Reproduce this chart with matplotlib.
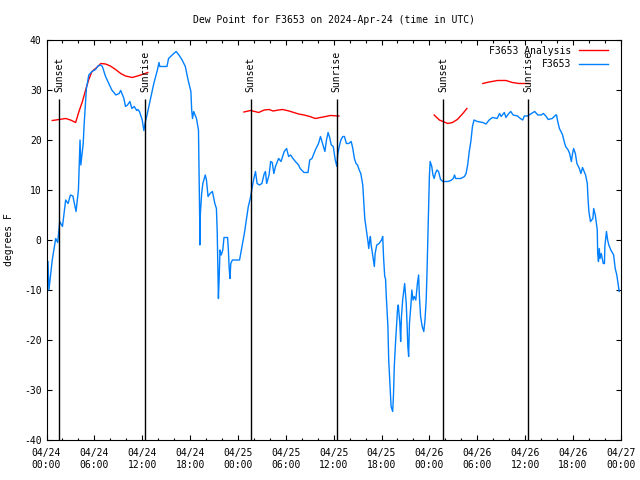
import matplotlib
matplotlib.use("Agg")
import matplotlib.pyplot as plt
import matplotlib.dates as mdates
import numpy as np

plt.rcParams["font.family"] = ["DejaVu Sans Mono"]
plt.rcParams["font.size"] = 7
plt.rcParams["axes.unicode_minus"] = False

START = np.datetime64("2024-04-24T00:00")
END = np.datetime64("2024-04-27T00:00")

# hours since 2024-04-24 00:00 UTC
obs_hours = [
    0.19, 0.3, 0.73, 1.15, 1.4, 1.65, 2.0, 2.4, 2.7, 3.0, 3.3, 3.7, 4.0, 4.2, 4.3,
    4.6, 4.7, 5.0, 5.3, 5.7, 6.15, 6.45, 6.8, 7.0, 7.4, 7.8, 8.2, 8.7, 9.1, 9.3,
    9.7, 9.9, 10.15, 10.45, 10.7, 11.0, 11.3, 11.45, 11.65, 12.0, 12.2, 12.4, 12.6,
    13.0, 13.45, 13.9, 14.1, 14.2, 14.7, 15.1, 15.3, 15.75, 16.25, 16.6, 17.0,
    17.4, 17.75, 18.1, 18.2, 18.3, 18.45, 18.8, 19.05, 19.1, 19.2, 19.22, 19.25,
    19.45, 19.6, 19.9, 20.05, 20.25, 20.5, 20.8, 21.1, 21.3, 21.4, 21.5, 21.55,
    21.65, 21.75, 21.9, 22.1, 22.25, 22.7, 22.8, 22.9, 23.0, 23.1, 23.3, 24.2,
    24.5, 24.8, 25.05, 25.3, 25.6, 25.8, 26.0, 26.2, 26.4, 26.7, 27.0, 27.3,
    27.45, 27.6, 27.9, 28.1, 28.3, 28.5, 28.7, 29.1, 29.4, 29.8, 30.1, 30.35,
    30.6, 30.9, 31.2, 31.6, 31.8, 32.3, 32.8, 33.0, 33.3, 33.7, 34.1, 34.35,
    34.6, 34.9, 35.1, 35.3, 35.5, 35.7, 35.95, 36.2, 36.4, 36.5, 36.7, 36.9,
    37.15, 37.35, 37.6, 37.9, 38.2, 38.4, 38.6, 38.8, 39.0, 39.2, 39.4, 39.65,
    39.8, 39.9, 40.1, 40.3, 40.4, 40.5, 40.6, 40.7, 40.8, 41.1, 41.2, 41.4,
    41.7, 42.0, 42.15, 42.25, 42.4, 42.5, 42.6, 42.8, 42.9, 43.1, 43.2, 43.4,
    43.5, 43.6, 43.75, 43.9, 44.0, 44.1, 44.3, 44.4, 44.5, 44.65, 44.8, 44.9,
    45.1, 45.2, 45.3, 45.4, 45.5, 45.7, 45.8, 45.95, 46.1, 46.3, 46.5, 46.65,
    46.75, 46.9, 47.1, 47.3, 47.45, 47.6, 47.7, 47.8, 47.9, 48.0, 48.1, 48.3,
    48.45, 48.6, 48.75, 48.95, 49.15, 49.4, 49.7, 50.3, 50.7, 51.0, 51.15, 51.3,
    51.95, 52.4, 52.6, 52.8, 53.0, 53.2, 53.4, 53.6, 54.0, 54.7, 55.1, 55.5,
    55.9, 56.5, 56.8, 57.0, 57.4, 57.6, 57.9, 58.2, 58.5, 59.05, 59.4, 59.7,
    59.9, 60.3, 60.7, 61.2, 61.6, 62.0, 62.3, 62.6, 62.9, 63.4, 63.85, 63.95,
    64.05, 64.3, 64.5, 64.7, 64.9, 65.1, 65.4, 65.6, 65.8, 65.95, 66.1, 66.3,
    66.5, 66.8, 67.0, 67.2, 67.4, 67.6, 67.8, 67.9, 68.0, 68.2, 68.5, 68.6,
    68.8, 69.05, 69.1, 69.2, 69.3, 69.4, 69.55, 69.8, 69.95, 70.0, 70.2, 70.35,
    70.5, 70.75, 71.1, 71.3, 71.5, 71.7, 71.8,
]
obs_dewpt = [
    -4.3, -10, -4, 0.3, -0.5, 3.7, 2.7, 8, 7.3, 9, 8.8, 5.7, 10, 20, 15,
    19.3, 22.7, 30.3, 33, 33.7, 34.1, 34.8, 35, 34.7, 32.7, 31.3, 30, 29, 29.3, 29.9,
    28.3, 26.7, 27, 27.7, 26.3, 26.7, 25.9, 26.1, 25.7, 24, 21.9, 23.7, 25,
    28, 31.3, 34, 35.5, 34.7, 34.7, 34.7, 36.3, 37, 37.7, 37, 36,
    34.7, 32, 29.7, 26, 24.3, 25.7, 24.3, 22, 15.7, 4.7, -1, 4.3,
    9.3, 11.3, 13, 12, 8.7, 9.3, 9.7, 7.3, 6.3, 1.7, -7.3, -11.7,
    -7.3, -2, -3, -2, 0.5, 0.5, -2, -5.7, -7.7, -4.7, -4, -4,
    -1.3, 1.3, 4, 6.7, 8.7, 10.7, 12.3, 13.7, 11.3, 11, 11.3, 13.3,
    13.7, 11.3, 13, 15.7, 15.5, 13.3, 14.7, 16.3, 15.7, 17.7, 18.3, 16.7,
    17, 16.3, 15.7, 15, 14.3, 13.5, 13.5, 16, 16.3, 18, 19.3, 20.7,
    19.3, 17.7, 20, 21.5, 20.5, 19, 18.7, 16, 14.7, 17, 18.7, 20,
    20.7, 20.7, 19.3, 19.3, 19.7, 18.3, 16.3, 15.3, 15, 14, 13.3, 11,
    7, 4.3, 2, -0.3, -1.7, -0.3, 0.7, -1, -2, -5.3, -2.7, -1,
    -0.7, 0, 0.7, -3.3, -7.3, -7.7, -11.3, -17.3, -24, -30, -33.3, -34.3,
    -31, -25.3, -20.7, -16.7, -14, -13, -16.7, -20.3, -15.3, -12, -10, -8.7,
    -12.7, -16.7, -21.3, -23.3, -16.7, -12.7, -10, -12, -11.3, -12, -8.7, -7,
    -11.3, -15.3, -17.3, -18.3, -16, -12, -6.7, -0.3, 6, 12.7, 15.7, 14.7,
    13, 12.3, 13.3, 14, 13.7, 12.1, 11.7, 11.7, 11.9, 12.3, 13, 12.3,
    12.3, 12.7, 13.3, 15, 17.7, 19.7, 22.7, 24, 23.7, 23.5, 23.2, 24,
    24.5, 24.3, 25.3, 24.7, 25.5, 24.5, 25.2, 25.7, 25, 24.8, 24.3, 24,
    24.8, 24.8, 25.2, 25.7, 25, 25, 25.3, 24.8, 24.1, 24.3, 25, 25,
    24, 22.3, 21.7, 21, 19.7, 18.7, 18, 17.3, 15.7, 17.3, 18.3, 17.3,
    15.3, 14.3, 13.3, 14.5, 13.7, 13, 11.3, 8, 5.7, 3.7, 4.3, 6.3,
    5, 2, -2.7, -4.3, -1.7, -3.7, -2.7, -4.7, -4.7, -1.3, 1.7, 0,
    -1, -2, -3, -5.7, -7, -9.3, -10.3,
]

# analysis series, NaN marks the gaps between segments
ana_hours = [
    0.73, 1.6, 2.4, 3.0, 3.65, 4.07, 4.5, 4.9, 5.3, 5.7, 6.3, 6.8, 7.4, 8.0,
    8.65, 9.3, 9.9, 10.75, 11.4, 12.0, 12.7, 12.8,
    24.75, 25.6, 26.6, 27.3, 27.9, 28.4, 29.1, 29.6, 30.4, 31.0, 31.6, 32.3,
    33.0, 33.7, 34.35, 35.0, 35.6, 36.65, 36.7,
    48.6, 49.25, 49.7, 50.3, 50.9, 51.5, 52.2, 52.7, 52.8,
    54.7, 55.5, 56.55, 57.6, 58.4, 59.25, 60.5,
]
ana_dewpt = [
    23.9, 24.1, 24.3, 24.0, 23.5, 25.7, 27.7, 30.0, 32.1, 33.7, 34.5, 35.3, 35.2, 34.8,
    34.1, 33.3, 32.8, 32.5, 32.8, 33.1, 33.5, np.nan,
    25.6, 25.9, 25.5, 26.0, 26.1, 25.8, 26.0, 26.1, 25.8, 25.5, 25.2, 25.0,
    24.7, 24.3, 24.5, 24.7, 24.9, 24.8, np.nan,
    25.0, 24.0, 23.7, 23.3, 23.5, 24.1, 25.3, 26.3, np.nan,
    31.3, 31.6, 31.9, 31.9, 31.5, 31.3, 31.3,
]

sun_hours = [1.6, 12.35, 25.6, 36.4, 49.7, 60.35]
sun_labels = ["Sunset", "Sunrise", "Sunset", "Sunrise", "Sunset", "Sunrise"]


def to_time(hours):
    return START + (np.asarray(hours) * 60).astype("timedelta64[m]")


fig = plt.figure(figsize=(6.4, 4.8), dpi=100)
ax = fig.add_axes([0.0727, 0.0833, 0.8973, 0.8334])

ax.plot(to_time(ana_hours), ana_dewpt, color="#ff0000", lw=1.0, label="F3653 Analysis")
ax.plot(to_time(obs_hours), obs_dewpt, color="#0080ff", lw=1.0, label="F3653")

for h, lab in zip(sun_hours, sun_labels):
    t = to_time([h])[0]
    ax.vlines(t, -40, 28.1, color="black", lw=1.0)
    ax.text(t, 29.6, lab, rotation=90, ha="center", va="bottom", fontsize=7)

ax.set_xlim(START, END)
ax.set_ylim(-40, 40)
ax.set_yticks(np.arange(-40, 41, 10))
ax.xaxis.set_major_locator(mdates.HourLocator(byhour=range(0, 24, 6)))
ax.xaxis.set_minor_locator(mdates.HourLocator(byhour=range(0, 24, 2)))
ax.xaxis.set_major_formatter(mdates.DateFormatter("%m/%d\n%H:%M"))
ax.tick_params(which="both", direction="in", top=True, right=True, labelsize=7)
ax.tick_params(which="major", length=3.6, width=0.8)
ax.tick_params(which="minor", length=1.8, width=0.8)
ax.tick_params(axis="x", pad=6)
for sp in ax.spines.values():
    sp.set_linewidth(0.8)

ax.set_title("Dew Point for F3653 on 2024-Apr-24 (time in UTC)", fontsize=7, pad=12)
ax.set_ylabel("degrees F", fontsize=7, labelpad=7)

ax.legend(loc="upper right", bbox_to_anchor=(0.985, 0.995), frameon=False,
          markerfirst=False, handlelength=3.0, handletextpad=0.8,
          labelspacing=0.35, borderaxespad=0.0, fontsize=7)

fig.savefig("out.png", dpi=100)
